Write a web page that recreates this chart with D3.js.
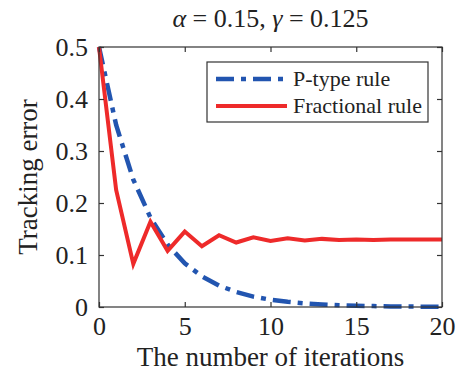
<!DOCTYPE html>
<html><head><meta charset="utf-8">
<script src="https://cdn.jsdelivr.net/npm/d3@7"></script>
<style>body{margin:0;background:#fff}svg{display:block}</style>
</head><body>
<script>
const iterations = d3.range(0, 21);
const pTypeError = [0.5, 0.35, 0.245, 0.172, 0.12, 0.084, 0.059, 0.041, 0.029, 0.020, 0.014, 0.010, 0.007, 0.005, 0.0035, 0.0025, 0.0017, 0.0012, 0.0008, 0.0006, 0.0004];
const fractionalError = [0.5, 0.225, 0.083, 0.164, 0.108, 0.145, 0.117, 0.138, 0.124, 0.134, 0.127, 0.132, 0.128, 0.131, 0.129, 0.130, 0.129, 0.130, 0.130, 0.130, 0.130];
const xTicks = [0, 5, 10, 15, 20];
const yTicks = [0, 0.1, 0.2, 0.3, 0.4, 0.5];
const seriesNames = ["P-type rule", "Fractional rule"];

const W = 456, H = 374;
const m = {left: 99, top: 47, right: 442, bottom: 307};
const font = "'Liberation Serif','Times New Roman',serif";
const svg = d3.select("body").append("svg").attr("width", W).attr("height", H);
const x = d3.scaleLinear().domain([0, 20]).range([m.left, m.right]);
const y = d3.scaleLinear().domain([0, 0.5]).range([m.bottom, m.top]);
const axCol = "#333";

// lines
const line = d3.line().x((d, i) => x(iterations[i])).y(d => y(d));
svg.append("path").datum(pTypeError).attr("d", line).attr("fill", "none")
  .attr("stroke", "#2255B0").attr("stroke-width", 4.5).attr("stroke-dasharray", "18,7,5,7");
svg.append("path").datum(fractionalError).attr("d", line).attr("fill", "none")
  .attr("stroke", "#EE2A2A").attr("stroke-width", 4).attr("stroke-linejoin", "miter");

// box
svg.append("rect").attr("x", m.left).attr("y", m.top).attr("width", m.right - m.left).attr("height", m.bottom - m.top)
  .attr("fill", "none").attr("stroke", axCol).attr("stroke-width", 1.2);

// axes
const xAxB = svg.append("g").attr("transform", `translate(0,${m.bottom})`)
  .call(d3.axisBottom(x).tickValues(xTicks).tickSizeInner(-5).tickSizeOuter(0).tickPadding(10).tickFormat(d3.format("d")));
const xAxT = svg.append("g").attr("transform", `translate(0,${m.top})`)
  .call(d3.axisTop(x).tickValues(xTicks).tickSizeInner(-5).tickSizeOuter(0).tickFormat(""));
const yAxL = svg.append("g").attr("transform", `translate(${m.left},0)`)
  .call(d3.axisLeft(y).tickValues(yTicks).tickSizeInner(-5).tickSizeOuter(0).tickPadding(11).tickFormat(d => d === 0 ? "0" : d3.format(".1f")(d)));
const yAxR = svg.append("g").attr("transform", `translate(${m.right},0)`)
  .call(d3.axisRight(y).tickValues(yTicks).tickSizeInner(-5).tickSizeOuter(0).tickFormat(""));
[xAxB, xAxT, yAxL, yAxR].forEach(g => {
  g.attr("font-family", font);
  g.select(".domain").remove();
  g.selectAll("line").attr("stroke", axCol).attr("stroke-width", 1.2);
  g.selectAll("text").attr("font-family", font).attr("font-size", 26).attr("fill", "#222");
});
xAxB.selectAll("text").attr("dy", "0.71em");
yAxL.selectAll("text").attr("dy", "0.34em");

// labels
svg.append("text").attr("x", (m.left + m.right) / 2).attr("y", 366).attr("text-anchor", "middle")
  .attr("font-family", font).attr("font-size", 27).attr("fill", "#222").text("The number of iterations");
svg.append("text").attr("transform", `translate(37,${(m.top + m.bottom) / 2}) rotate(-90)`).attr("text-anchor", "middle")
  .attr("font-family", font).attr("font-size", 27).attr("fill", "#222").text("Tracking error");
const t = svg.append("text").attr("x", (m.left + m.right) / 2).attr("y", 27).attr("text-anchor", "middle")
  .attr("font-family", font).attr("font-size", 26).attr("fill", "#222");
t.append("tspan").attr("font-style", "italic").text("α");
t.append("tspan").text(" = 0.15, ");
t.append("tspan").attr("font-style", "italic").text("γ");
t.append("tspan").text(" = 0.125");

// legend
const lg = svg.append("g");
lg.append("rect").attr("x", 207).attr("y", 62).attr("width", 221).attr("height", 60)
  .attr("fill", "#fff").attr("stroke", axCol).attr("stroke-width", 1.2);
const styles = [{c: "#2255B0", w: 4.5, d: "18,7,5,7"}, {c: "#EE2A2A", w: 4, d: null}];
seriesNames.forEach((n, i) => {
  const yy = 79 + i * 27;
  lg.append("line").attr("x1", 216).attr("x2", 287).attr("y1", yy).attr("y2", yy)
    .attr("stroke", styles[i].c).attr("stroke-width", styles[i].w).attr("stroke-dasharray", styles[i].d);
  lg.append("text").attr("x", 293).attr("y", yy).attr("dy", "0.34em").attr("font-family", font)
    .attr("font-size", 22).attr("fill", "#222").text(n);
});
</script>
</body></html>
